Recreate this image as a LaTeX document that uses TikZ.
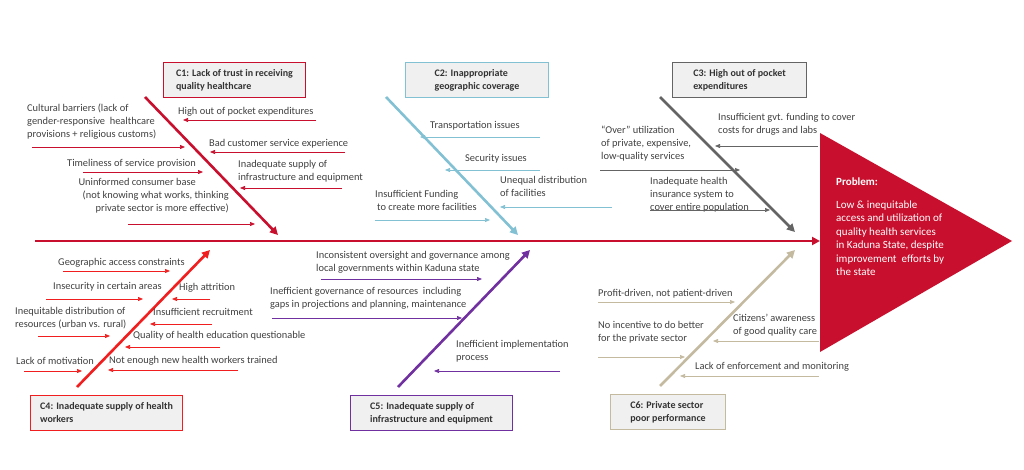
\documentclass[tikz,border=0pt]{standalone}
\usepackage{fontspec}
\setmainfont{Carlito}
\usetikzlibrary{arrows.meta}
\definecolor{crim}{RGB}{200,16,46}
\definecolor{redc}{RGB}{240,30,30}
\definecolor{bluec}{RGB}{130,192,212}
\definecolor{grayc}{RGB}{100,100,100}
\definecolor{purc}{RGB}{112,48,160}
\definecolor{tanc}{RGB}{196,186,160}
\definecolor{txt}{RGB}{64,64,64}
\tikzset{
  bone/.style={line width=2.6pt,-{Triangle[length=8pt,width=8pt]}},
  twig/.style={line width=0.7pt,-{Triangle[length=5pt,width=4pt]}},
  lbl/.style={inner sep=0pt,align=left,text=txt,font=\fontsize{10.4}{12.8}\selectfont},
  cbox/.style={draw=#1,line width=1pt,fill=black!6,minimum height=35pt,inner sep=6pt,
    anchor=north west,align=left,text=black!80,font=\bfseries\fontsize{10}{13}\selectfont},
}
\begin{document}
\begin{tikzpicture}[x=1pt,y=-1pt]
\useasboundingbox (0,0) rectangle (1024,470);
% spine and head
\draw[bone,crim,line width=2.8pt] (35,241) -- (820,241);
\fill[crim] (820,133) -- (1012,241) -- (820,352) -- cycle;
\node[lbl,text=white,anchor=north west,font=\fontsize{11}{13.5}\selectfont] (prob) at (836,178)
  {\textbf{Problem:}\\[9pt]Low \& inequitable\\access and utilization of\\quality health services\\in Kaduna State, despite\\improvement\ \ efforts by\\the state};

% C1
\node[cbox=crim,minimum width=142pt] (c1) at (163,62) {C1: Lack of trust in receiving\\quality healthcare};
\draw[bone,crim] (145,97) -- (278,235);
\node[lbl,anchor=north west] at (27,104) {Cultural barriers (lack of\\gender-responsive\ \ healthcare\\provisions + religious customs)};
\draw[twig,crim] (32,147) -- (185,147);
\node[lbl,anchor=south west] at (67,168) {Timeliness of service provision};
\draw[twig,crim] (83,172) -- (203,172);
\node[lbl,anchor=north east,align=right] at (229,178) {Uninformed consumer base\hspace*{33pt}\mbox{}\\(not knowing what works, thinking\\private sector is more effective)};
\draw[twig,crim] (128,224) -- (255,224);
\node[lbl,anchor=south west] at (178,116) {High out of pocket expenditures};
\draw[twig,crim] (316,120) -- (183,120);
\node[lbl,anchor=south west] at (209,148) {Bad customer service experience};
\draw[twig,crim] (345,152) -- (210,152);
\node[lbl,anchor=north west] at (238,160) {Inadequate supply of\\infrastructure and equipment};
\draw[twig,crim] (342,188) -- (240,188);

% C2
\node[cbox=bluec,minimum width=143pt] (c2) at (405,62) {C2: Inappropriate\\geographic coverage};
\draw[bone,bluec] (386,97) -- (518,235);
\node[lbl,anchor=south west] at (430,130) {Transportation issues};
\draw[twig,bluec] (540,137) -- (420,137);
\node[lbl,anchor=south west] at (465,163) {Security issues};
\draw[twig,bluec] (540,170) -- (445,170);
\node[lbl,anchor=north west] at (500,176) {Unequal distribution\\of facilities};
\draw[twig,bluec] (612,207) -- (500,207);
\node[lbl,anchor=north west] at (375,190) {Insufficient Funding\\\hspace*{2pt}to create more facilities};
\draw[twig,bluec] (375,220) -- (490,220);

% C3
\node[cbox=grayc,minimum width=134pt] (c3) at (672,62) {C3: High out of pocket\\expenditures};
\draw[bone,grayc] (660,97) -- (795,232);
\node[lbl,anchor=north west] at (601,126) {``Over'' utilization\\of private, expensive,\\low-quality services};
\draw[twig,grayc] (600,170) -- (740,170);
\node[lbl,anchor=north west] at (718,113) {Insufficient gvt. funding to cover\\costs for drugs and labs};
\draw[twig,grayc] (818,146) -- (715,146);
\node[lbl,anchor=north west] at (650,177) {Inadequate health\\insurance system to\\cover entire population};
\draw[twig,grayc] (650,210) -- (770,210);

% C4
\node[cbox=redc,minimum width=152pt] (c4) at (30,395) {C4: Inadequate supply of health\\workers};
\draw[bone,redc] (77,387) -- (210,250);
\node[lbl,anchor=south west] at (58,267) {Geographic access constraints};
\draw[twig,redc] (63,271) -- (170,271);
\node[lbl,anchor=south west] at (53,291) {Insecurity in certain areas};
\draw[twig,redc] (46,299) -- (143,299);
\node[lbl,anchor=north west] at (15,307) {Inequitable distribution of\\resources (urban vs. rural)};
\draw[twig,redc] (38,336) -- (110,336);
\node[lbl,anchor=south west] at (16,365) {Lack of motivation};
\draw[twig,redc] (24,371) -- (82,371);
\node[lbl,anchor=south west] at (179,292) {High attrition};
\draw[twig,redc] (210,299) -- (172,299);
\node[lbl,anchor=south west] at (153,316) {Insufficient recruitment};
\draw[twig,redc] (212,324) -- (150,324);
\node[lbl,anchor=south west] at (133,340) {Quality of health education questionable};
\draw[twig,redc] (220,347) -- (125,347);
\node[lbl,anchor=south west] at (109,365) {Not enough new health workers trained};
\draw[twig,redc] (238,370) -- (108,370);

% C5
\node[cbox=purc,minimum width=162pt] (c5) at (350,395) {C5: Inadequate supply of\\infrastructure and equipment};
\draw[bone,purc] (398,387) -- (530,250);
\node[lbl,anchor=north west] at (316,251) {Inconsistent oversight and governance among\\local governments within Kaduna state};
\draw[twig,purc] (321,279) -- (482,279);
\node[lbl,anchor=north west] at (270,287) {Inefficient governance of resources\ \ including\\gaps in projections and planning, maintenance};
\draw[twig,purc] (272,318) -- (462,318);
\node[lbl,anchor=north west] at (456,340) {Inefficient implementation\\process};
\draw[twig,purc] (560,371) -- (434,371);

% C6
\node[cbox=tanc,minimum width=115pt] (c6) at (610,394) {C6: Private sector\\poor performance};
\draw[bone,tanc] (660,386) -- (795,250);
\node[lbl,anchor=south west] at (598,298) {Profit-driven, not patient-driven};
\draw[twig,tanc] (598,302) -- (735,302);
\node[lbl,anchor=north west] at (598,321) {No incentive to do better\\for the private sector};
\draw[twig,tanc] (598,357) -- (685,357);
\node[lbl,anchor=north west] at (733,314) {Citizens' awareness\\of good quality care};
\draw[twig,tanc] (819,341) -- (713,341);
\node[lbl,anchor=south west] at (695,371) {Lack of enforcement and monitoring};
\draw[twig,tanc] (819,376) -- (680,376);
\end{tikzpicture}
\end{document}
